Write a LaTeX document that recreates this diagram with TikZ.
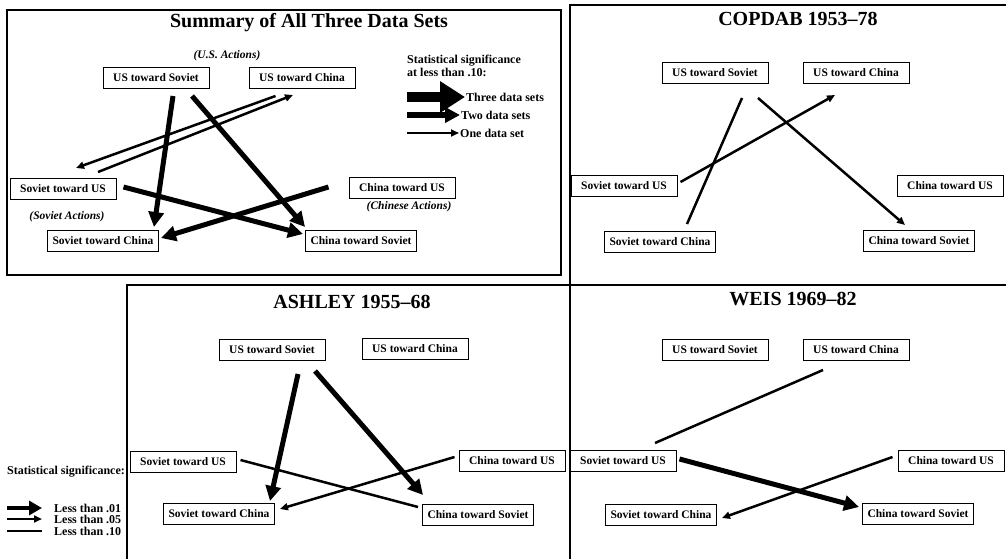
\documentclass[tikz,border=0pt]{standalone}
\usepackage{fontspec}
\setmainfont{Liberation Serif}
\usetikzlibrary{arrows.meta}

\begin{document}
\begin{tikzpicture}[x=1pt,y=-1pt,
box/.style={draw, line width=1pt, inner xsep=5pt, minimum width=106pt, minimum height=21pt, font=\bfseries\fontsize{11.5}{13}\selectfont},
ttl/.style={font=\bfseries\fontsize{20}{23}\selectfont},
side/.style={font=\bfseries\itshape\fontsize{11.5}{13}\selectfont},
leg/.style={font=\bfseries\fontsize{12}{12.5}\selectfont, inner sep=1pt, align=left},
panel/.style={line width=1.5pt},
huge/.style={-{Triangle[length=25pt,width=30pt]}, line width=10pt},
heavy/.style={-{Triangle[length=15pt,width=15pt]}, line width=5pt},
medium/.style={-{Triangle[length=8pt,width=7pt]}, line width=2.5pt},
plain/.style={line width=2.5pt}
]
\useasboundingbox (0,0) rectangle (1006,559);

% panel frames
\draw[panel] (7,10) rectangle (561,275);
\draw[panel] (1006,5) -- (570,5) -- (570,559);
\draw[panel] (127,559) -- (127,285) -- (1006,285);

% summary of all three
\node[ttl] (st) at (309,23) {Summary of All Three Data Sets};
\node[side] (sua) at (227,56) {(U.S. Actions)};
\node[side] (ssa) at (67,217) {(Soviet Actions)};
\node[side] (sca) at (409,207) {(Chinese Actions)};
\node[box] (sus) at (156,78) {US toward Soviet};
\node[box] (suc) at (302,78) {US toward China};
\node[box] (ssu) at (63,189) {Soviet toward US};
\node[box] (scu) at (402,188) {China toward US};
\node[box] (ssc) at (103,241) {Soviet toward China};
\node[box] (scs) at (361,241) {China toward Soviet};

\draw[heavy] ([shift={(17,7)}]sus.south) -- ([shift={(51,-3)}]ssc.north);
\draw[heavy] ([shift={(36,7)}]sus.south) -- ([shift={(0,-3)}]scs.north west);
\draw[heavy] ([shift={(7,-2)}]ssu.east) -- ([shift={(-2,-7)}]scs.west);
\draw[heavy] ([shift={(-20,-1)}]scu.west) -- ([shift={(2,-3)}]ssc.east);
\draw[medium] ([shift={(27,7)}]suc.south west) -- ([shift={(13,-10)}]ssu.north);
\draw[medium] ([shift={(35,-6)}]ssu.north) -- ([shift={(-9,6)}]suc.south);

% legend, three data sets
\node[leg, anchor=north west] (lg) at (406,54) {Statistical significance\\at less than .10:};
\node[leg, anchor=west] (l3) at (465,97) {Three data sets};
\node[leg, anchor=west] (l2) at (460,115) {Two data sets};
\node[leg, anchor=west] (l1) at (459,133) {One data set};
\coordinate (c3) at (407,97);
\coordinate (c2) at (407,115);
\coordinate (c1) at (407,133);
\draw[huge] (c3) -- (l3.west);
\draw[-{Triangle[length=15pt,width=15pt]}, line width=6pt] (c2) -- (l2.west);
\draw[medium] (c1) -- (l1.west);

% COPDAB
\node[ttl] (ct) at (798,19) {COPDAB 1953--78};
\node[box] (cus) at (715,73) {US toward Soviet};
\node[box] (cuc) at (856,73) {US toward China};
\node[box] (csu) at (624,186) {Soviet toward US};
\node[box] (ccu) at (950,186) {China toward US};
\node[box] (csc) at (660,242) {Soviet toward China};
\node[box] (ccs) at (919,241) {China toward Soviet};

\draw[plain] ([shift={(27,14)}]cus.south) -- ([shift={(27,-7)}]csc.north);
\draw[medium] ([shift={(3,-4)}]csu.east) -- ([shift={(-21,11)}]cuc.south);
\draw[medium] ([shift={(43,14)}]cus.south) -- ([shift={(-14,-5)}]ccs.north);

% ASHLEY
\node[ttl] (at) at (352,302) {ASHLEY 1955--68};
\node[box] (aus) at (272,350) {US toward Soviet};
\node[box] (auc) at (415,349) {US toward China};
\node[box] (asu) at (183,462) {Soviet toward US};
\node[box] (acu) at (512,461) {China toward US};
\node[box] (asc) at (219,514) {Soviet toward China};
\node[box] (acs) at (478,515) {China toward Soviet};

\draw[heavy] ([shift={(26,13)}]aus.south) -- ([shift={(51,-2)}]asc.north);
\draw[heavy] ([shift={(43,10)}]aus.south) -- ([shift={(1,-9)}]acs.north west);
\draw[plain] ([shift={(4,-2)}]asu.east) -- ([shift={(-4,-8)}]acs.west);
\draw[medium] ([shift={(-4,-4)}]acu.west) -- ([shift={(5,-5)}]asc.east);

% WEIS
\node[ttl] (wt) at (793,299) {WEIS 1969--82};
\node[box] (wus) at (715,350) {US toward Soviet};
\node[box] (wuc) at (856,350) {US toward China};
\node[box] (wsu) at (623,461) {Soviet toward US};
\node[box] (wcu) at (951,461) {China toward US};
\node[box] (wsc) at (661,515) {Soviet toward China};
\node[box] (wcs) at (918,514) {China toward Soviet};

\draw[plain] ([shift={(-33,9)}]wuc.south) -- ([shift={(32,-7)}]wsu.north);
\draw[heavy] ([shift={(3,-2)}]wsu.east) -- ([shift={(-3,-7)}]wcs.west);
\draw[medium] ([shift={(-5,-4)}]wcu.west) -- ([shift={(5,3)}]wsc.east);

% legend, significance levels
\node[leg] (sg) at (66,472) {Statistical significance:};
\node[leg, anchor=west] (s1) at (53,508) {Less than .01};
\node[leg, anchor=west] (s2) at (53,519) {Less than .05};
\node[leg, anchor=west] (s3) at (53,531) {Less than .10};
\coordinate (p1) at (7,508);
\coordinate (p2) at (7,519);
\coordinate (p3) at (7,531);
\draw[-{Triangle[length=13pt,width=14pt]}, line width=4pt] (p1) -- (42,508);
\draw[medium] (p2) -- (42,519);
\draw[plain] (p3) -- (42,531);
\end{tikzpicture}
\end{document}
